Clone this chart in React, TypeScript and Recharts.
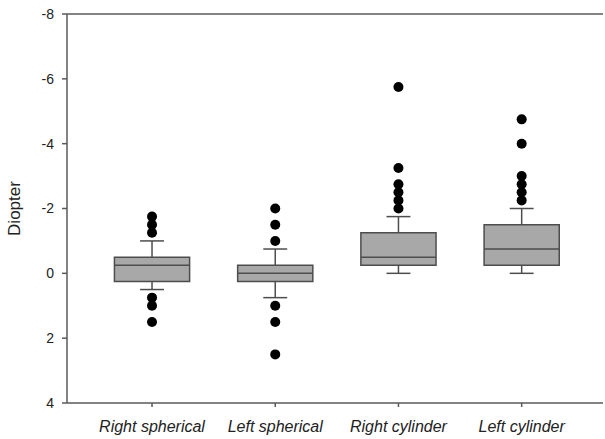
import {
  ComposedChart,
  ReferenceArea,
  ReferenceLine,
  Scatter,
  XAxis,
  YAxis,
} from 'recharts';

// box plot of refraction, values in diopters (axis reversed: minus up)
const categories = ['Right spherical', 'Left spherical', 'Right cylinder', 'Left cylinder'];
const positions = [1, 2, 3, 4];
const whiskerTop = [-1.0, -0.75, -1.75, -2.0];
const boxTop = [-0.5, -0.25, -1.25, -1.5];
const medians = [-0.25, 0, -0.5, -0.75];
const boxBottom = [0.25, 0.25, -0.25, -0.25];
const whiskerBottom = [0.5, 0.75, 0, 0];
const outliers = [
  [-1.75, -1.5, -1.25, 0.75, 1.0, 1.5],
  [-2.0, -1.5, -1.0, 1.0, 1.5, 2.5],
  [-5.75, -3.25, -2.75, -2.5, -2.25, -2.0],
  [-4.75, -4.0, -3.0, -2.75, -2.5, -2.25],
];
const yTicks = [-8, -6, -4, -2, 0, 2, 4];

const outlierPoints = outliers.flatMap((vals, i) =>
  vals.map((v) => ({ x: positions[i], y: v }))
);

const BOX_HALF = 0.305;
const CAP_HALF = 0.097;
const boxStroke = '#4d4d4d';
const axisColor = '#5a5a5a';
const font = '"Liberation Sans", Arial, sans-serif';

export default function App() {
  return (
    <div style={{ position: 'absolute', left: 0, top: 0, background: '#fff' }}>
      <ComposedChart
        width={605}
        height={439}
        margin={{ top: 14, right: 2, left: 0, bottom: 6 }}
        style={{ fontFamily: font }}
      >
        <XAxis
          type="number"
          dataKey="x"
          domain={[0.31, 4.66]}
          ticks={positions}
          allowDataOverflow
          tickFormatter={(v) => categories[positions.indexOf(v)] ?? ''}
          height={30}
          stroke={axisColor}
          strokeWidth={1.5}
          tickSize={4}
          tickMargin={14}
          tick={{ fontSize: 16, fontStyle: 'italic', fill: '#222' }}
        />
        <YAxis
          type="number"
          dataKey="y"
          domain={[-8, 4]}
          ticks={yTicks}
          reversed
          allowDataOverflow
          width={67}
          stroke={axisColor}
          strokeWidth={1.5}
          tickSize={5}
          tickMargin={8}
          tick={{ fontSize: 14, fill: '#222' }}
          label={{
            content: ({ viewBox }: any) => (
              <text
                x={14}
                y={viewBox.y + viewBox.height / 2}
                transform={`rotate(-90, 14, ${viewBox.y + viewBox.height / 2})`}
                textAnchor="middle"
                dominantBaseline="central"
                fontSize={17}
                fill="#222"
              >
                Diopter
              </text>
            ),
          }}
        />
        <ReferenceLine y={-8} stroke={axisColor} strokeWidth={1.5} />

        {positions.map((p, i) => (
          <ReferenceLine
            key={`wt${i}`}
            segment={[{ x: p, y: whiskerTop[i] }, { x: p, y: boxTop[i] }]}
            stroke={boxStroke}
            strokeWidth={1.5}
          />
        ))}
        {positions.map((p, i) => (
          <ReferenceLine
            key={`wb${i}`}
            segment={[{ x: p, y: boxBottom[i] }, { x: p, y: whiskerBottom[i] }]}
            stroke={boxStroke}
            strokeWidth={1.5}
          />
        ))}
        {positions.map((p, i) => (
          <ReferenceLine
            key={`ct${i}`}
            segment={[{ x: p - CAP_HALF, y: whiskerTop[i] }, { x: p + CAP_HALF, y: whiskerTop[i] }]}
            stroke={boxStroke}
            strokeWidth={1.5}
          />
        ))}
        {positions.map((p, i) => (
          <ReferenceLine
            key={`cb${i}`}
            segment={[{ x: p - CAP_HALF, y: whiskerBottom[i] }, { x: p + CAP_HALF, y: whiskerBottom[i] }]}
            stroke={boxStroke}
            strokeWidth={1.5}
          />
        ))}
        {positions.map((p, i) => (
          <ReferenceArea
            key={`box${i}`}
            x1={p - BOX_HALF}
            x2={p + BOX_HALF}
            y1={boxTop[i]}
            y2={boxBottom[i]}
            fill="#a8a8a8"
            fillOpacity={1}
            stroke={boxStroke}
            strokeWidth={1.5}
          />
        ))}
        {positions.map((p, i) => (
          <ReferenceLine
            key={`med${i}`}
            segment={[{ x: p - BOX_HALF, y: medians[i] }, { x: p + BOX_HALF, y: medians[i] }]}
            stroke={boxStroke}
            strokeWidth={1.5}
          />
        ))}

        <Scatter
          data={outlierPoints}
          isAnimationActive={false}
          shape={(props: any) => <circle cx={props.cx} cy={props.cy} r={5} fill="#000" />}
        />
      </ComposedChart>
    </div>
  );
}
